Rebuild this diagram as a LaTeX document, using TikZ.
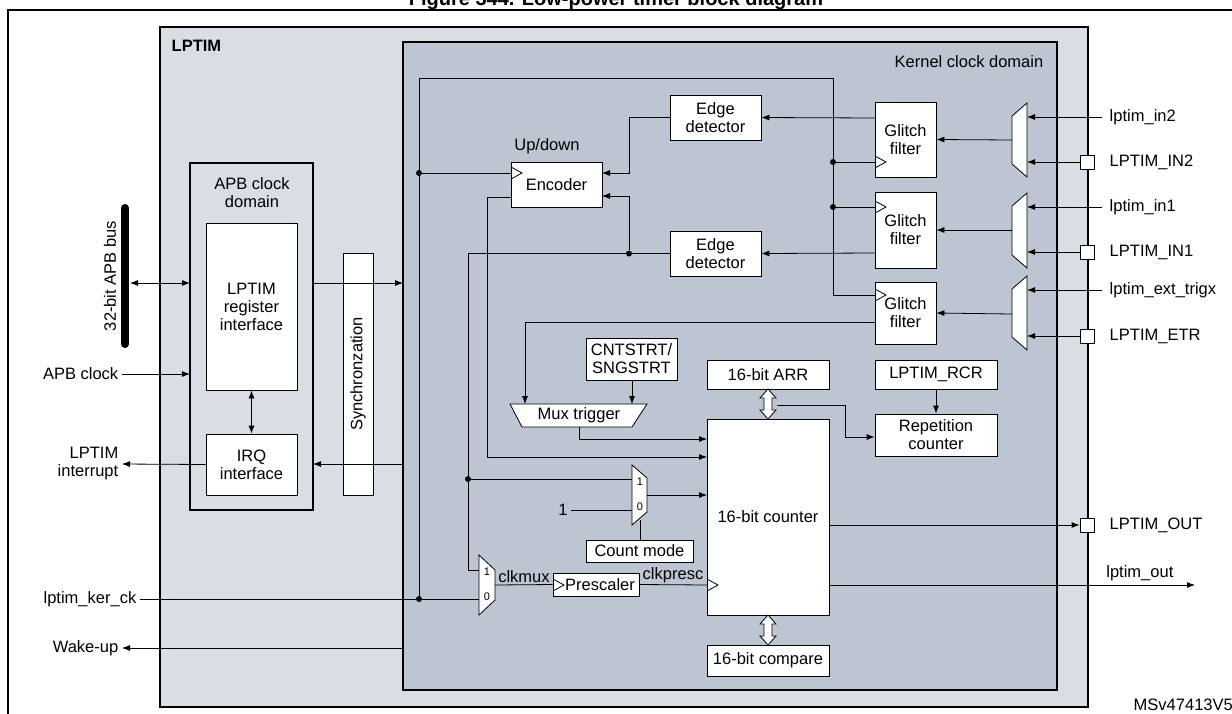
\documentclass[tikz,border=0pt]{standalone}
\usepackage{fontspec}
\setmainfont{Liberation Sans}
\usetikzlibrary{arrows.meta,positioning}
\definecolor{lpgray}{HTML}{D9DDE4}
\definecolor{kergray}{HTML}{BDC5D3}
\tikzset{
  blk/.style={draw,fill=white,align=center,inner sep=0pt},
  dom/.style={draw,line width=1.8pt},
  sig/.style={-{Latex[length=8pt,width=6pt]}},
  dot/.style={circle,fill,inner sep=0pt,minimum size=6pt},
  pad/.style={draw,fill=white,minimum size=14pt,inner sep=0pt},
  lbl/.style={font=\fontsize{11}{12}\selectfont,inner sep=0pt},
}
\newcommand{\clktri}[1]{\draw (#1)++(0,-6) --++(11,6) --++(-11,6);}
\newcommand{\dblarr}[3]{%
  \draw[fill=white] (#1,#2) -- (#1+8,#2+9) -- (#1+4,#2+9) -- (#1+4,#3-9) -- (#1+8,#3-9) -- (#1,#3)
    -- (#1-8,#3-9) -- (#1-4,#3-9) -- (#1-4,#2+9) -- (#1-8,#2+9) -- cycle;}
\begin{document}
\begin{tikzpicture}[x=1pt,y=-1pt,font=\fontsize{16.5}{18}\selectfont,line width=0.8pt]
  \useasboundingbox (0,0) rectangle (1232,713);
  \node[anchor=base,font=\fontsize{20}{22}\selectfont\bfseries] (title) at (616,5) {Figure 344. Low-power timer block diagram};
  \draw[line width=1.4pt] (8,10) rectangle (1245,725);
  %domains
  \draw[dom,fill=lpgray] (160,27) rectangle (1088,707);
  \node[anchor=north west,font=\fontsize{16.5}{18}\selectfont\bfseries] (lptim) at (168,36) {LPTIM};
  \draw[dom,fill=kergray] (403,42) rectangle (1057,690);
  \node[anchor=north east] (kern) at (1047,52) {Kernel clock domain};
  \draw[dom,fill=lpgray] (190,163) rectangle (313,510);
  \node[align=center] (apbdom) at (252,193) {APB clock\\domain};

  %left
  \node[blk,minimum width=91pt,minimum height=167pt] (reg) at (251.5,306.5) {LPTIM\\register\\interface};
  \node[blk,minimum width=91pt,minimum height=61pt] (irq) at (251.5,464.5) {IRQ\\interface};
  \node[blk,minimum width=30pt,minimum height=242pt] (sync) at (358,374) {};
  \node[rotate=90] at (sync) {Synchronzation};
  \draw[line width=8pt,line cap=round] (125,208) -- (125,344);
  \node[rotate=90] (bus) at (110,276) {32-bit APB bus};
  \draw[{Latex[length=8pt,width=6pt]}-{Latex[length=8pt,width=6pt]}] (130,283) -- (190,283);
  \draw[{Latex[length=8pt,width=6pt]}-{Latex[length=8pt,width=6pt]}] (reg.south) -- (irq.north);
  \node[anchor=east] (apbclk) at (122,374) {APB clock};
  \draw[sig] (apbclk.east) -- (190,374);
  \draw[sig] (313,283) -- (403,283);
  \draw[sig] (403,464) -- (313,464);
  \node[anchor=east,align=right] (irqout) at (122,464) {LPTIM\\interrupt};
  \draw[sig] (irq.west) -- (irqout.east);
  \node[anchor=east] (kerck) at (140,599) {lptim\_ker\_ck};
  \node[anchor=east] (wake) at (122,648) {Wake-up};
  \draw[sig] (403,648) -- (wake.east);

  %inputs
  \foreach \t/\b in {103/177,193/268,276/350}
    \draw[fill=white] (1012,\t+13) -- (1027,\t) -- (1027,\b) -- (1012,\b-13) -- cycle;
  \foreach \y/\txt in {117/lptim\_in2,207/lptim\_in1,290/lptim\_ext\_trigx}{
    \node[anchor=west] (in\y) at (1106,\y) {\txt};
    \draw[sig] (1102,\y) -- (1027,\y);
  }
  \foreach \y/\txt in {162/LPTIM\_IN2,252/LPTIM\_IN1,336/LPTIM\_ETR}{
    \node[pad] (pad\y) at (1087,\y) {};
    \node[anchor=west] (pin\y) at (1106,\y) {\txt};
    \draw[sig] (pad\y.west) -- (1027,\y);
  }

  %glitch filters
  \node[blk,minimum width=61pt,minimum height=75pt] (gf1) at (905.5,139.5) {Glitch\\filter};
  \node[blk,minimum width=61pt,minimum height=76pt] (gf2) at (905.5,230) {Glitch\\filter};
  \node[blk,minimum width=61pt,minimum height=62pt] (gf3) at (905.5,313) {Glitch\\filter};
  \draw[sig] (1012,140) -- (gf1.east);
  \draw[sig] (1012,230) -- (gf2.east);
  \draw[sig] (1012,314) -- (gf3.east);
  \clktri{875,162} \clktri{875,207} \clktri{875,295}
  \node[blk,minimum width=91pt,minimum height=45pt] (ed1) at (715.5,117.5) {Edge\\detector};
  \node[blk,minimum width=91pt,minimum height=45pt] (ed2) at (715.5,253.5) {Edge\\detector};
  \node[blk,minimum width=91pt,minimum height=45pt] (enc) at (556.5,184.5) {Encoder};
  \node[above=4pt of enc.north west,anchor=south west] (updown) {Up/down};
  \clktri{511,173}
  \draw[sig] (875,118) -- (ed1.east);
  \draw[sig] (875,253) -- (ed2.east);
  \draw[sig] (ed1.west) -- (629,117.5) -- (629,173) -- (602,173);
  \node[dot] (d4) at (629,253.5) {};
  \draw[sig] (d4) -- (629,196) -- (602,196);
  \draw (ed2.west) -- (468,253.5) -- (468,570) -- (479,570);

  %clock tree
  \node[dot] (d1) at (419,599) {};
  \node[dot] (d2) at (419,173) {};
  \node[dot] (d3) at (833,162) {};
  \node[dot] (d5) at (833,207) {};
  \node[dot] (d6) at (468,479) {};
  \draw (kerck.east) -- (d1) -- (479,599);
  \draw (d1) -- (419,78) -- (833,78) -- (833,295) -- (875,295);
  \draw (d2) -- (511,173);
  \draw (d3) -- (875,162);
  \draw (d5) -- (875,207);
  \draw (d6) -- (632,479);

  %counter
  \node[blk,minimum width=122pt,minimum height=196pt] (cnt) at (768,517) {16-bit counter};
  \node[blk,minimum width=122pt,minimum height=29pt] (arr) at (768,374.5) {16-bit ARR};
  \node[blk,minimum width=122pt,minimum height=31pt] (cmp) at (768,660.5) {16-bit compare};
  \node[blk,minimum width=122pt,minimum height=29pt] (rcr) at (936,374.5) {LPTIM\_RCR};
  \node[blk,minimum width=122pt,minimum height=42pt] (rep) at (936,435) {Repetition\\counter};
  \draw (777,405) -- (845,405) -- (845,437);
  \draw[sig] (845,437) -- (rep.west|-0,437);
  \dblarr{768}{389}{419}
  \dblarr{768}{615}{645}
  \draw[sig] (rcr.south) -- (rep.north);
  \draw[sig] (enc.west|-0,197) -- (487,197) -- (487,457) -- (707,457);
  \clktri{707,585}

  %trigger
  \node[blk,minimum width=91pt,minimum height=42pt] (start) at (631.5,359) {CNTSTRT/\\SNGSTRT};
  \draw[fill=white] (510,404) -- (647,404) -- (632,427) -- (522,427) -- cycle;
  \node (mtrig) at (579,415.5) {Mux trigger};
  \draw[sig] (gf3.west|-0,322) -- (525,322) -- (525,404);
  \draw[sig] (start.south-|632,0) -- (632,404);
  \draw[sig] (579,427) -- (579,439) -- (707,439);

  %count mode
  \draw[fill=white] (632,465) -- (647,478) -- (647,512) -- (632,525) -- cycle;
  \node[lbl] at (640,482) {1};
  \node[lbl] at (640,507) {0};
  \node (one) at (563,510) {1};
  \draw (one.east) -- (632,510);
  \draw[sig] (647,495) -- (707,495);
  \node[blk,minimum width=107pt,minimum height=22pt] (mode) at (639.5,551) {Count mode};
  \draw (mode.north-|640,0) -- (640,520);

  %prescaler
  \draw[fill=white] (479,555) -- (495,570) -- (495,600) -- (479,615) -- cycle;
  \node[lbl] at (487,572) {1};
  \node[lbl] at (487,597) {0};
  \node[blk,minimum width=86pt,minimum height=23pt] (presc) at (596,584.5) {\hspace*{8pt}Prescaler};
  \clktri{553,585}
  \draw (495,585) -- (presc.west);
  \node[anchor=south,inner sep=2pt] (clkmux) at (524,585) {clkmux};
  \draw (presc.east) -- (707,585);
  \node[anchor=south,inner sep=2pt] (clkpresc) at (673,585) {clkpresc};

  %outputs
  \node[pad] (padout) at (1087,525) {};
  \node[anchor=west] (pout) at (1106,525) {LPTIM\_OUT};
  \draw[sig] (cnt.east|-0,525) -- (padout.west);
  \node[anchor=south west,inner sep=2pt] (lout) at (1104,583) {lptim\_out};
  \draw[sig] (cnt.east|-0,585) -- (1195,585);
  \node[anchor=west] (ref) at (1130,705) {MSv47413V5};
\end{tikzpicture}
\end{document}
